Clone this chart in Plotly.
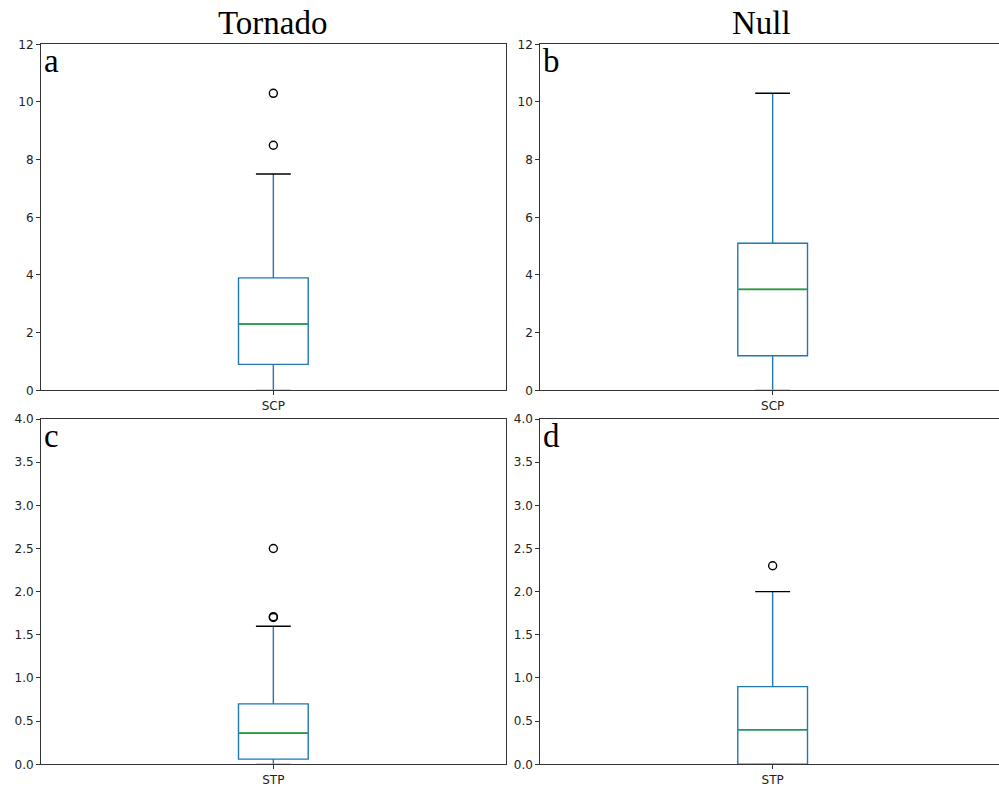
import plotly.graph_objects as go

# ---- data ----
panel_letters = ["a", "b", "c", "d"]
column_titles = ["Tornado", "Null"]
categories = ["SCP", "SCP", "STP", "STP"]
q1_vals = [0.9, 1.2, 0.06, 0.0]
median_vals = [2.3, 3.5, 0.36, 0.4]
q3_vals = [3.9, 5.1, 0.7, 0.9]
lower_whisker = [0.0, 0.0, 0.0, 0.0]
upper_whisker = [7.5, 10.3, 1.6, 2.0]
outlier_vals = [[8.5, 10.3], [], [1.7, 1.71, 2.5], [2.3]]
y_max = [12, 12, 4, 4]
y_dtick = [2, 2, 0.5, 0.5]
y_format = ["d", "d", ".1f", ".1f"]

# ---- layout / style ----
W, H = 999, 787
BOX_W = 0.15
CAP_HALF = 0.0375
BLUE = "#1f77b4"
GREEN = "#2ca02c"
SPINE = "#333333"

# pixel geometry of each panel: (x0, x1, ytop, ybottom)
geo = [
    (41.0, 505.7, 44.3, 390.3),
    (540.3, 999.0, 44.3, 390.3),
    (41.0, 505.7, 419.0, 764.3),
    (540.3, 999.0, 419.0, 764.3),
]
full_axis_px = 464.7

fig = go.Figure()
layout_axes = {}
for i in range(4):
    n = "" if i == 0 else str(i + 1)
    xa, ya = "x" + n, "y" + n
    x0, x1, yt, yb = geo[i]
    right = (x1 - x0) / full_axis_px - 0.5
    right_panel = i % 2 == 1

    fig.add_trace(go.Box(
        x=[0], q1=[q1_vals[i]], median=[median_vals[i]], q3=[q3_vals[i]],
        lowerfence=[lower_whisker[i]], upperfence=[upper_whisker[i]],
        width=BOX_W, whiskerwidth=0, boxpoints=False,
        line=dict(color=BLUE, width=1.4), fillcolor="rgba(0,0,0,0)",
        xaxis=xa, yaxis=ya, showlegend=False, hoverinfo="skip"))
    # whisker caps (black; the one at 0 sits on the axis and looks grey)
    for v in (lower_whisker[i], upper_whisker[i]):
        fig.add_trace(go.Scatter(
            x=[-CAP_HALF, CAP_HALF], y=[v, v], mode="lines",
            line=dict(color="black" if v > 0 else "#aaaaaa", width=1.4),
            xaxis=xa, yaxis=ya, showlegend=False, hoverinfo="skip"))
    # median (green)
    fig.add_trace(go.Scatter(
        x=[-BOX_W / 2 + 0.002, BOX_W / 2 - 0.002], y=[median_vals[i], median_vals[i]],
        mode="lines", line=dict(color=GREEN, width=1.7),
        xaxis=xa, yaxis=ya, showlegend=False, hoverinfo="skip"))
    # outliers
    if outlier_vals[i]:
        fig.add_trace(go.Scatter(
            x=[0] * len(outlier_vals[i]), y=outlier_vals[i], mode="markers",
            marker=dict(symbol="circle-open", size=8, color="black",
                        line=dict(width=1.4, color="black")),
            xaxis=xa, yaxis=ya, showlegend=False, hoverinfo="skip", cliponaxis=False))

    layout_axes["xaxis" + n] = dict(
        domain=[x0 / W, x1 / W], range=[-0.5, right], anchor=ya, automargin=False,
        tickmode="array", tickvals=[0], ticktext=[categories[i]],
        showline=True, linecolor=SPINE, linewidth=1, mirror=True,
        ticks="outside", ticklen=4, tickcolor=SPINE, showgrid=False, zeroline=False,
        tickfont=dict(family="DejaVu Sans", size=12, color="#222222"), fixedrange=True)
    layout_axes["yaxis" + n] = dict(
        domain=[1 - yb / H, 1 - yt / H], range=[0, y_max[i]], anchor=xa, automargin=False,
        dtick=y_dtick[i], tick0=0, tickformat=y_format[i],
        showline=True, linecolor=SPINE, linewidth=1, mirror=(not right_panel),
        ticks="outside", ticklen=4, tickcolor=SPINE, showgrid=False, zeroline=False,
        tickfont=dict(family="DejaVu Sans", size=12, color="#222222"), fixedrange=True)

annotations = []
for i in range(4):
    x0, x1, yt, yb = geo[i]
    annotations.append(dict(
        text=panel_letters[i], x=(x0 + 0.5) / W, y=1 - (yt - 3) / H,
        xref="paper", yref="paper", xanchor="left", yanchor="top", showarrow=False,
        font=dict(family="Liberation Serif", size=33, color="black")))
title_centers = [273.3, 761.5]
for j, t in enumerate(column_titles):
    annotations.append(dict(
        text=t, x=title_centers[j] / W, y=1 - 23 / H, xref="paper", yref="paper",
        xanchor="center", yanchor="middle", showarrow=False,
        font=dict(family="Liberation Serif", size=33, color="black")))

fig.update_layout(
    width=W, height=H, margin=dict(l=0, r=0, t=0, b=0, autoexpand=False),
    paper_bgcolor="white", plot_bgcolor="white",
    annotations=annotations, **layout_axes)

fig.write_html(
    "out.html",
    config={"displayModeBar": False},
    post_script="document.body.style.margin='0';document.body.style.overflow='hidden';")
